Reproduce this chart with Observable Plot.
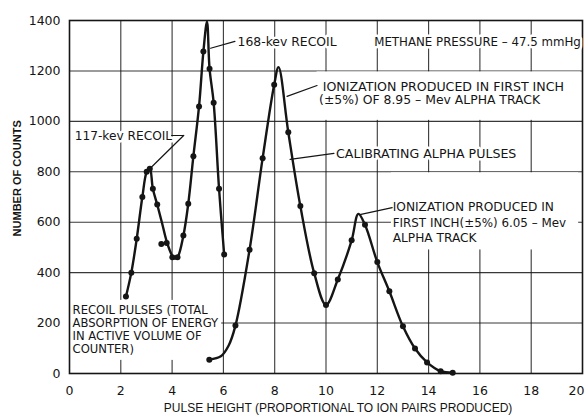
<!DOCTYPE html>
<html><head><meta charset="utf-8">
<script src="https://cdn.jsdelivr.net/npm/d3@7"></script>
<script src="https://cdn.jsdelivr.net/npm/@observablehq/plot@0.6"></script>
<style>body{margin:0;background:#fff}svg{display:block}</style>
</head><body><div id="chart"></div>
<script>
const xTicks = [0,2,4,6,8,10,12,14,16,18];
const xTickLast = [20];
const yTicks = [0,200,400,600,800,1000,1200,1400];
const xGrid = [2,4,6,8,10,12,14,16,18];
const yGrid = [200,400,600,800,1000,1200];

// Recoil peaks (117-kev and 168-kev): measured points
const recoilX = [2.2,2.41,2.62,2.84,3.01,3.13,3.25,3.42,3.58,3.79,4.01,4.21,4.44,4.63,4.83,5.05,5.22,5.46,5.62,5.83,6.03];
const recoilY = [305,400,534,700,800,812,733,670,514,518,461,461,547,673,862,1059,1277,1209,1074,733,472];
// Hand-drawn recoil curve
const recoilCurveX = [2.2,2.41,2.62,2.84,3.01,3.13,3.25,3.42,3.6,3.8,4.0,4.1,4.21,4.44,4.63,4.83,5.05,5.22,5.36,5.46,5.62,5.83,6.03];
const recoilCurveY = [305,400,534,700,800,815,733,670,600,520,468,456,461,547,673,862,1059,1277,1395,1209,1074,733,472];

// Calibrating alpha pulses: measured points
const alphaX = [5.45,6.47,7.02,7.53,7.98,8.53,9.0,9.54,10.0,10.46,11.0,11.52,12.0,12.47,13.0,13.47,13.94,14.47,14.94];
const alphaY = [55,190,491,854,1145,957,664,398,272,373,528,590,442,326,187,99,44,9,3];
// Hand-drawn alpha curve
const alphaCurveX = [5.45,5.9,6.2,6.47,7.02,7.53,7.98,8.15,8.53,9.0,9.54,10.0,10.46,11.0,11.26,11.52,12.0,12.47,13.0,13.47,13.94,14.47,14.94];
const alphaCurveY = [55,68,110,190,491,854,1145,1215,957,664,398,272,373,528,633,590,442,326,187,99,44,9,3];

const xTitle = "PULSE HEIGHT (PROPORTIONAL TO ION PAIRS PRODUCED)";
const yTitle = "NUMBER OF COUNTS";

// Annotation texts
const haloLabels = [
  {t:"168-kev RECOIL", x:6.55, y:1313, s:12.4},
  {t:"METHANE PRESSURE – 47.5 mmHg", x:11.88, y:1313, s:11.8},
  {t:"CALIBRATING ALPHA PULSES", x:10.39, y:869, s:12.6},
  {t:"117-kev RECOIL", x:0.2, y:940, s:12.2}
];
const boxLabels = [
  {t:"IONIZATION PRODUCED IN FIRST INCH", x:9.87, y:1138, s:12.6},
  {t:"(±5%) OF 8.95 – Mev ALPHA TRACK", x:9.73, y:1083, s:12.4},
  {t:"IONIZATION PRODUCED IN", x:12.6, y:659, s:12.2},
  {t:"FIRST INCH(±5%) 6.05 – Mev", x:12.6, y:595, s:11.9},
  {t:"ALPHA TRACK", x:12.6, y:536, s:12.2}
];
const recoilNote = [
  {t:"RECOIL PULSES (TOTAL", x:0.12, y:250},
  {t:"ABSORPTION OF ENERGY", x:0.12, y:198},
  {t:"IN ACTIVE VOLUME OF", x:0.12, y:147},
  {t:"COUNTER)", x:0.12, y:95}
];
const whiteBoxes = [
  {x1:9.65, x2:19.94, y1:1004, y2:1196},
  {x1:12.55, x2:19.85, y1:490, y2:796},
  {x1:0.04, x2:5.93, y1:52, y2:290}
];
const arrows = [
  {x1:6.45, y1:1317, x2:5.5, y2:1290, bend:0},
  {x1:9.65, y1:1142, x2:8.48, y2:1099, bend:-25},
  {x1:10.31, y1:873, x2:8.6, y2:849, bend:0},
  {x1:12.58, y1:658, x2:11.32, y2:630, bend:0},
  {x1:4.45, y1:944, x2:3.16, y2:815, bend:0}
];
const flagLine = [{x:3.98, y:944}, {x:4.45, y:944}];

const recoil = recoilX.map((x,i)=>({x, y:recoilY[i]}));
const recoilCurve = recoilCurveX.map((x,i)=>({x, y:recoilCurveY[i]}));
const alpha = alphaX.map((x,i)=>({x, y:alphaY[i]}));
const alphaCurve = alphaCurveX.map((x,i)=>({x, y:alphaCurveY[i]}));

const ink = "#151515";
const font = "DejaVu Sans";

const chart = Plot.plot({
  width: 586, height: 416,
  marginLeft: 69, marginRight: 4, marginTop: 20, marginBottom: 43,
  style: {fontFamily: font, color: ink, background: "#fff", overflow: "visible"},
  x: {domain: [0,20]},
  y: {domain: [0,1400]},
  marks: [
    Plot.ruleX(xGrid, {stroke: ink, strokeWidth: 1.1, strokeOpacity: 0.85}),
    Plot.ruleY(yGrid, {stroke: ink, strokeWidth: 1.1, strokeOpacity: 0.85}),
    Plot.rect(whiteBoxes, {x1:"x1", x2:"x2", y1:"y1", y2:"y2", fill:"#fff"}),
    Plot.frame({stroke: ink, strokeWidth: 1.6}),
    Plot.axisX({ticks: xTicks, tickSize: 0, tickPadding: 13, fontSize: 12.5, label: null}),
    Plot.axisX({ticks: xTickLast, tickSize: 0, tickPadding: 13, fontSize: 12.5, dx: -6, label: null}),
    Plot.axisY({ticks: yTicks, tickSize: 0, tickPadding: 9, fontSize: 12.5, tickFormat: "d", label: null}),
    Plot.line(recoilCurve, {x:"x", y:"y", curve:"catmull-rom", stroke: ink, strokeWidth: 2.4}),
    Plot.line(alphaCurve, {x:"x", y:"y", curve:"catmull-rom", stroke: ink, strokeWidth: 2.4}),
    Plot.dot(recoil, {x:"x", y:"y", r:3, fill: ink}),
    Plot.dot(alpha, {x:"x", y:"y", r:3, fill: ink}),
    Plot.text(haloLabels, {x:"x", y:"y", text:"t", textAnchor:"start", fontSize:"s", fill: ink, stroke:"#fff", strokeWidth:5}),
    Plot.text(boxLabels, {x:"x", y:"y", text:"t", textAnchor:"start", fontSize:"s", fill: ink}),
    Plot.text(recoilNote, {x:"x", y:"y", text:"t", textAnchor:"start", fontSize:11.6, fill: ink}),
    Plot.line(flagLine, {x:"x", y:"y", stroke: ink, strokeWidth: 1.2}),
    Plot.arrow(arrows, {x1:"x1", y1:"y1", x2:"x2", y2:"y2", bend:"bend", stroke: ink, strokeWidth: 1.2, headLength: 6}),
    Plot.text([xTitle], {x: 10.47, y: -139, fontSize: 12, fontFamily: "Liberation Sans", fill: ink}),
    Plot.text([yTitle], {x: -2.03, y: 774, rotate: -90, fontSize: 11, fontWeight: "bold", fontFamily: "Liberation Sans", fill: ink})
  ]
});
document.getElementById("chart").appendChild(chart);
</script>
</body></html>
